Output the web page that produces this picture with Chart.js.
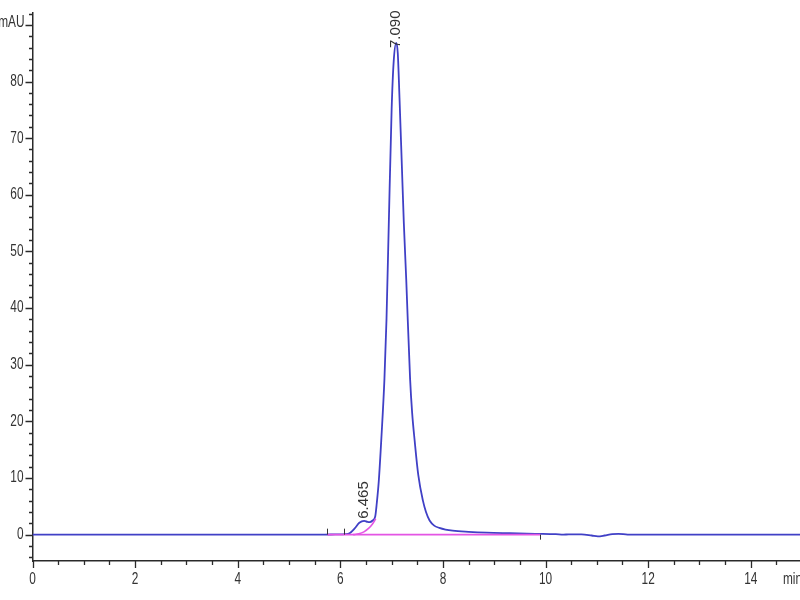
<!DOCTYPE html>
<html>
<head>
<meta charset="utf-8">
<script src="https://cdn.jsdelivr.net/npm/chart.js@4"></script>
<style>
  html, body { margin: 0; padding: 0; background: #fff; }
  #wrap { width: 800px; height: 600px; }
</style>
</head>
<body>
<div id="wrap"><canvas id="chrom"></canvas></div>
<script>
// chromatogram trace (min, mAU)
const traceTimes = [0, 5.7, 5.9, 6.1, 6.18, 6.28, 6.37, 6.465, 6.53, 6.57, 6.63, 6.68, 6.71, 6.75, 6.80, 6.86,
    6.90, 6.945, 7.0, 7.04, 7.09, 7.12, 7.154, 7.20, 7.238, 7.285, 7.36, 7.40, 7.45, 7.52, 7.61, 7.67, 7.74, 7.83,
    7.93, 8.05, 8.19, 8.5, 8.85, 9.3, 9.8, 10.2, 10.35, 10.45, 10.7, 10.9, 11.02, 11.15, 11.3, 11.42, 11.6, 12, 14.96];
const traceMau = [0, 0, 0.05, 0.1, 0.25, 1.1, 2.1, 2.45, 2.25, 2.2, 2.5, 3.2, 5.5, 9.5, 17, 27.5,
    38, 55, 75, 83.5, 86.8, 85, 77, 65, 55, 45, 27.5, 21.5, 16.5, 10.5, 6.0, 4.0, 2.5, 1.6,
    1.2, 0.9, 0.7, 0.5, 0.35, 0.25, 0.15, 0.08, 0, 0.05, 0.05, -0.15, -0.3, -0.15, 0.1, 0.15, 0.02, 0, 0];

// integration baseline + skim under the shoulder
const baselineTimes = [5.745, 9.9];
const baselineMau = [0, 0];
const skimTimes = [6.25, 6.36, 6.46, 6.55, 6.62, 6.69];
const skimMau = [0, 0.15, 0.5, 1.1, 1.8, 2.8];

// peaks and integration events
const peakTimes = [6.465, 7.090];
const peakMau = [2.45, 86.8];
const eventStartTimes = [5.745, 6.08];
const eventEndTimes = [9.9];

const xTickLabels = [0, 2, 4, 6, 8, 10, 12, 14];
const yTickLabels = [0, 10, 20, 30, 40, 50, 60, 70, 80];
const yMajorTicks = [0, 10, 20, 30, 40, 50, 60, 70, 80, 90];
const xMinorStep = 0.5;
const yMinorStep = 2;

const axisFont = "16px 'Liberation Sans', Arial, sans-serif";
const axisSqueeze = 0.74;   // axis digits are condensed in the original
const labelFont = "15px 'Liberation Sans', Arial, sans-serif";
const labelNudge = [-2, 5];
const inkColor = '#2a2a2a';

function toPoints(xs, ys) {
    return xs.map((x, i) => ({ x: x, y: ys[i] }));
}

function squeezedText(ctx, text, x, y, align) {
    ctx.save();
    ctx.translate(x, y);
    ctx.scale(axisSqueeze, 1);
    ctx.textAlign = align;
    ctx.textBaseline = 'middle';
    ctx.fillText(text, 0, 0);
    ctx.restore();
}

const chromAxes = {
    id: 'chromAxes',
    afterDraw(chart) {
        const ctx = chart.ctx;
        const xs = chart.scales.x;
        const ys = chart.scales.y;
        const area = chart.chartArea;
        ctx.save();
        ctx.strokeStyle = inkColor;
        ctx.lineWidth = 1.3;
        ctx.beginPath();
        // y ticks
        for (let v = Math.ceil(ys.min / yMinorStep) * yMinorStep; v <= ys.max; v += yMinorStep) {
            const py = Math.round(ys.getPixelForValue(v)) + 0.5;
            const len = yMajorTicks.includes(v) ? 7 : 3.5;
            ctx.moveTo(area.left, py);
            ctx.lineTo(area.left - len, py);
        }
        // x ticks
        for (let v = 0; v <= xs.max; v += xMinorStep) {
            const px = Math.round(xs.getPixelForValue(v)) + 0.5;
            const len = xTickLabels.includes(v) ? 7 : 4;
            ctx.moveTo(px, area.bottom);
            ctx.lineTo(px, area.bottom + len);
        }
        ctx.stroke();

        // tick labels
        ctx.fillStyle = '#333';
        ctx.font = axisFont;
        yTickLabels.forEach(v => squeezedText(ctx, String(v), area.left - 9, ys.getPixelForValue(v), 'right'));
        xTickLabels.forEach(v => squeezedText(ctx, String(v), xs.getPixelForValue(v), area.bottom + 19, 'center'));
        squeezedText(ctx, 'mAU', area.left - 8, ys.getPixelForValue(90) - 2, 'right');
        squeezedText(ctx, 'min', area.right - 17, area.bottom + 19, 'left');

        // integration event marks
        const y0 = ys.getPixelForValue(0);
        ctx.lineWidth = 1;
        ctx.strokeStyle = '#333';
        ctx.beginPath();
        eventStartTimes.forEach(t => {
            const px = Math.round(xs.getPixelForValue(t)) + 0.5;
            ctx.moveTo(px, y0);
            ctx.lineTo(px, y0 - 6);
        });
        eventEndTimes.forEach(t => {
            const px = Math.round(xs.getPixelForValue(t)) + 0.5;
            ctx.moveTo(px, y0);
            ctx.lineTo(px, y0 + 5);
        });
        ctx.stroke();

        // retention time labels, rotated
        ctx.font = labelFont;
        ctx.fillStyle = '#333';
        peakTimes.forEach((t, i) => {
            const px = xs.getPixelForValue(t);
            const py = ys.getPixelForValue(peakMau[i]) + labelNudge[i];
            ctx.save();
            ctx.translate(px, py);
            ctx.rotate(-Math.PI / 2);
            ctx.textAlign = 'left';
            ctx.textBaseline = 'middle';
            ctx.fillText(t.toFixed(3), 0, 0);
            ctx.restore();
        });
        ctx.restore();
    }
};

new Chart(document.getElementById('chrom'), {
    type: 'line',
    data: {
        datasets: [
            {
                data: toPoints(baselineTimes, baselineMau),
                borderColor: '#e455e4',
                borderWidth: 1.6,
                pointRadius: 0,
                order: 0
            },
            {
                data: toPoints(skimTimes, skimMau),
                borderColor: '#e455e4',
                borderWidth: 1.6,
                pointRadius: 0,
                cubicInterpolationMode: 'monotone',
                order: 0
            },
            {
                data: toPoints(traceTimes, traceMau),
                borderColor: '#4040c6',
                borderWidth: 1.8,
                pointRadius: 0,
                cubicInterpolationMode: 'monotone',
                order: 1
            }
        ]
    },
    options: {
        responsive: true,
        maintainAspectRatio: false,
        animation: false,
        layout: { padding: { top: 12.4, right: 0, bottom: 0, left: 0 } },
        plugins: { legend: { display: false }, tooltip: { enabled: false } },
        scales: {
            x: {
                type: 'linear',
                min: 0,
                max: 14.96,
                grid: { display: false },
                border: { display: true, color: inkColor, width: 1.5 },
                ticks: { display: false },
                afterBuildTicks: s => { s.ticks = xTickLabels.map(v => ({ value: v })); },
                afterFit: s => { s.height = 39; s.paddingLeft = 0; s.paddingRight = 0; }
            },
            y: {
                min: -4.65,
                max: 92.2,
                grid: { display: false },
                border: { display: true, color: inkColor, width: 1.5 },
                ticks: { display: false },
                afterBuildTicks: s => { s.ticks = yTickLabels.map(v => ({ value: v })); },
                afterFit: s => { s.width = 32.5; s.paddingTop = 0; s.paddingBottom = 0; }
            }
        }
    },
    plugins: [chromAxes]
});
</script>
</body>
</html>
